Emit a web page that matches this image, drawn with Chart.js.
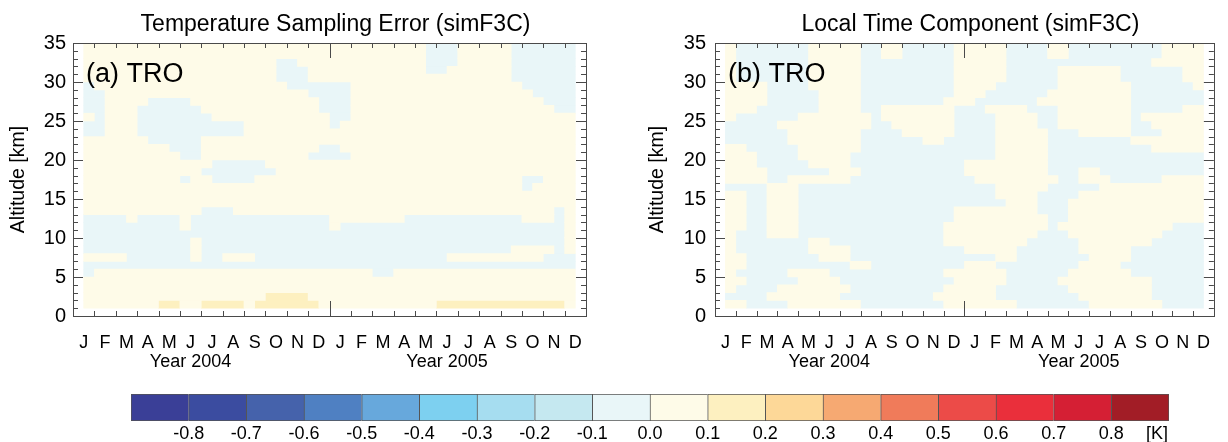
<!DOCTYPE html>
<html>
<head>
<meta charset="utf-8">
<script src="https://cdn.jsdelivr.net/npm/chart.js@4.4.1/dist/chart.umd.min.js"></script>
<style>
  body { margin: 0; background: #fff; }
  .wrap { position: relative; width: 1228px; height: 442px; overflow: hidden; }
  canvas { position: absolute; }
</style>
</head>
<body>
<div class="wrap">
  <canvas id="panelA" width="614" height="380" style="left:0;top:0"></canvas>
  <canvas id="panelB" width="614" height="380" style="left:614px;top:0"></canvas>
  <canvas id="colorBar" width="1228" height="62" style="left:0;top:380px"></canvas>
</div>
<script>
// axis labels
const monthLabels = ["J","F","M","A","M","J","J","A","S","O","N","D",
                     "J","F","M","A","M","J","J","A","S","O","N","D"];
const yearLabels = ["Year 2004", "Year 2005"];
const altitudeTicks = [0, 5, 10, 15, 20, 25, 30, 35];

// contour levels [K] and their colours
const levelEdges = [-0.9,-0.8,-0.7,-0.6,-0.5,-0.4,-0.3,-0.2,-0.1,0,0.1,0.2,0.3,0.4,0.5,0.6,0.7,0.8,0.9];
const levelColors = ["#3a3f97","#3b4ca0","#4562ab","#4f80c2","#67a8dc","#7dd0f0","#a6ddf0","#c5e8f0","#e9f6f8",
                     "#fefbe8","#fdf0c0","#fdd898","#f6a972","#f07b5a","#ec4b48","#ea2f3b","#d51f34","#a21d26"];
const colorbarTicks = [-0.8,-0.7,-0.6,-0.5,-0.4,-0.3,-0.2,-0.1,0.0,0.1,0.2,0.3,0.4,0.5,0.6,0.7,0.8];

// field values, one string per 1 km layer (35 km at top down to 1 km),
// run-length coded over half-month cells from mid Jan 2004 to mid Dec 2005
// "-" = -0.1..0 K, "." = 0..0.1 K, "o" = 0.1..0.2 K
const cellValues = { "-": -0.05, ".": 0.05, "o": 0.15 };
const samplingErrorRows = [
  "32. 3- 5. 6-", "32. 3- 5. 6-", "18. 2- 12. 3- 5. 6-", "18. 3- 11. 2- 6. 6-", "18. 3- 19. 6-",
  "1- 18. 6- 16. 5-", "2- 19. 4- 17. 4-", "2- 4. 4- 12. 3- 18. 3-", "2- 3. 6- 11. 3- 19. 2-",
  "1. 1- 3. 7- 11. 2- 21.", "2- 3. 10- 8. 1- 22.", "2- 3. 10- 31.", "6. 5- 35.", "8. 3- 11. 2- 22.",
  "9. 2- 10. 4- 21.", "12. 5- 29.", "11. 7- 28.", "9. 1- 2. 4- 25. 2- 3.", "41. 1- 4.", "46.", "46.",
  "11. 3- 30. 1- 1.", "4- 1. 4- 1. 13- 7. 11- 3. 1- 1.", "9- 1. 13- 1. 21- 1.", "45- 1.",
  "10- 1. 34- 1.", "10- 1. 29- 4. 1- 1.", "4. 6- 1. 2- 3. 18- 9. 3-", "46-", "1- 26. 2- 17.",
  "46.", "46.", "17. 4o 25.", "7. 2o 2. 4o 1. 6o 11. 12o 1."
];
const localTimeRows = [
  "1. 7- 5. 2- 2. 5- 5. 4- 2. 9- 4.", "1. 7- 5. 2- 2. 5- 5. 4- 2. 9- 4.", "1. 7- 5. 9- 5. 14- 5.",
  "1. 7- 5. 9- 5. 5- 6. 6- 2.", "1. 7- 5. 9- 5. 5- 6. 6- 2.", "4. 4- 5. 9- 4. 6- 7. 6- 1.",
  "4. 5- 4. 9- 3. 6- 8. 7-", "4. 5- 4. 8- 3. 6- 9. 7-", "3. 6- 4. 2- 7. 3- 4. 3- 7. 5- 2.",
  "1. 6- 7. 1- 7. 4- 4. 2- 7. 1- 6.", "5- 9. 2- 6. 4- 4. 2- 7. 2- 5.", "6- 7. 4- 5. 4- 5. 3- 5. 3- 4.",
  "6- 7. 6- 2. 5- 5. 8- 7.", "2. 5- 6. 13- 5. 10- 5.", "3. 4- 5. 14- 5. 15-", "3. 5- 4. 11- 8. 15-",
  "4. 6- 3. 10- 8. 3- 2. 10-", "4. 2- 6. 12- 8. 2- 3. 5- 4.", "4- 3. 19- 5. 5- 10.",
  "2. 2- 3. 19- 4. 4- 12.", "2. 2- 3. 20- 3. 3- 13.", "2. 2- 3. 15- 8. 3- 13.", "2. 2- 3. 15- 9. 2- 13.",
  "2. 2- 3. 14- 10. 1- 11. 3-", "1. 3- 3. 14- 9. 3- 9. 4-", "1. 7- 2. 11- 8. 5- 7. 5-",
  "1. 7- 4. 11- 5. 6- 5. 7-", "2. 7- 3. 14- 2. 7- 4. 7-", "2. 10- 2. 9- 3. 8- 4. 8-",
  "1. 5- 4. 11- 6. 6- 6. 7-", "2. 5- 4. 11- 5. 5- 9. 5-", "1. 4- 7. 9- 5. 7- 8. 5-",
  "4- 7. 9- 6. 8- 7. 5-", "2. 4- 7. 8- 7. 7- 7. 4-"
];

// grid of the field
const firstMonth = 0.5, monthStep = 0.5;
const topAltitude = 35, layerDepth = 1;

Chart.defaults.font.family = '"Liberation Sans", Arial, Helvetica, sans-serif';
Chart.defaults.color = "#000";

function levelColor(v) {
  for (let i = 0; i < levelColors.length; i++) {
    if (v < levelEdges[i + 1]) return levelColors[i];
  }
  return levelColors[levelColors.length - 1];
}

// every run of equal cells becomes one floating bar
function fieldDatasets(rows) {
  const groups = {};
  rows.forEach((row, r) => {
    const alt = topAltitude - layerDepth * (r + 0.5);
    let pos = 0;
    row.trim().split(/\s+/).forEach(tok => {
      const n = parseInt(tok, 10);
      const v = cellValues[tok.slice(-1)];
      if (!groups[v]) groups[v] = [];
      groups[v].push({ y: alt, x: [firstMonth + pos * monthStep, firstMonth + (pos + n) * monthStep] });
      pos += n;
    });
  });
  return Object.keys(groups).map(v => ({
    data: groups[v],
    backgroundColor: levelColor(+v),
    borderWidth: 0,
    barPercentage: 1,
    categoryPercentage: 1,
    grouped: false
  }));
}

// box and inward tick marks like the original plot
const frameTicks = {
  id: "frameTicks",
  afterDatasetsDraw(chart) {
    const { ctx, chartArea: a, scales } = chart;
    const x = scales.x, y = scales.y;
    ctx.save();
    ctx.strokeStyle = "#4a4a4a";
    ctx.lineWidth = 1;
    ctx.strokeRect(Math.round(a.left) + 0.5, Math.round(a.top) + 0.5, Math.round(a.width), Math.round(a.height));
    ctx.beginPath();
    for (let m = 1; m < monthLabels.length; m++) {
      const px = Math.round(x.getPixelForValue(m)) + 0.5;
      const len = m % 12 === 0 ? 15 : 5;
      ctx.moveTo(px, a.bottom); ctx.lineTo(px, a.bottom - len);
      ctx.moveTo(px, a.top); ctx.lineTo(px, a.top + len);
    }
    for (let k = 1; k < topAltitude; k++) {
      const py = Math.round(y.getPixelForValue(k)) + 0.5;
      const len = k % 5 === 0 ? 10 : 5;
      ctx.moveTo(a.left, py); ctx.lineTo(a.left + len, py);
      ctx.moveTo(a.right, py); ctx.lineTo(a.right - len, py);
    }
    ctx.stroke();
    ctx.restore();
  }
};

const panelText = {
  id: "panelText",
  afterDraw(chart, args, opts) {
    const { ctx, chartArea: a } = chart;
    ctx.save();
    ctx.fillStyle = "#000";
    ctx.textBaseline = "middle";
    ctx.textAlign = "center";
    ctx.font = '23px "Liberation Sans", Arial, sans-serif';
    ctx.fillText(opts.title, (a.left + a.right) / 2 + 6, a.top - 18);
    ctx.textAlign = "left";
    ctx.font = '27px "Liberation Sans", Arial, sans-serif';
    ctx.fillText(opts.label, a.left + 13, a.top + 31.5);
    ctx.restore();
  }
};

function makePanel(id, rows, title, label, axisWidth, rightPad, tickPad, titlePad) {
  return new Chart(document.getElementById(id), {
    type: "bar",
    data: { datasets: fieldDatasets(rows) },
    plugins: [frameTicks, panelText],
    options: {
      indexAxis: "y",
      responsive: false,
      animation: false,
      events: [],
      layout: { padding: { left: 0, right: rightPad, top: 43, bottom: 0 } },
      plugins: {
        legend: { display: false },
        tooltip: { enabled: false },
        panelText: { title: title, label: label }
      },
      scales: {
        x: {
          type: "linear", position: "bottom", min: 0, max: 24, offset: false,
          grid: { display: false, drawTicks: false },
          border: { display: false },
          afterBuildTicks: s => { s.ticks = monthLabels.map((_, i) => ({ value: i + 0.5 })); },
          ticks: { autoSkip: false, maxRotation: 0, padding: 18, font: { size: 18, lineHeight: 1 },
                   callback: (v, i) => monthLabels[i] },
          afterFit: s => { s.height = 37; }
        },
        x2: {
          type: "linear", position: "bottom", min: 0, max: 24, weight: 1,
          grid: { display: false, drawTicks: false },
          border: { display: false },
          afterBuildTicks: s => { s.ticks = yearLabels.map((_, i) => ({ value: 5.5 + 12 * i })); },
          ticks: { autoSkip: false, maxRotation: 0, padding: 0, font: { size: 18, lineHeight: 1 },
                   callback: (v, i) => yearLabels[i] },
          afterFit: s => { s.height = 27; }
        },
        y: {
          type: "linear", min: 0, max: topAltitude, offset: false,
          grid: { display: false, drawTicks: false, offset: false },
          border: { display: false },
          afterBuildTicks: s => { s.ticks = altitudeTicks.map(v => ({ value: v })); },
          ticks: { autoSkip: false, padding: tickPad, font: { size: 20 }, callback: v => v },
          title: { display: true, text: "Altitude [km]", font: { size: 19.5 }, padding: { top: titlePad, bottom: 0 } },
          afterFit: s => { s.width = axisWidth; }
        }
      }
    }
  });
}

makePanel("panelA", samplingErrorRows, "Temperature Sampling Error (simF3C)", "(a) TRO", 73, 28, 7, 7);
makePanel("panelB", localTimeRows, "Local Time Component (simF3C)", "(b) TRO", 101, 1, 9, 32);

// colour bar
const unitLabel = {
  id: "unitLabel",
  afterDraw(chart) {
    const { ctx, chartArea: a } = chart;
    ctx.save();
    ctx.fillStyle = "#000";
    ctx.font = '18px "Liberation Sans", Arial, sans-serif';
    ctx.textAlign = "right";
    ctx.textBaseline = "middle";
    ctx.fillText("[K]", a.right - 1, a.bottom + 13);
    ctx.restore();
  }
};

new Chart(document.getElementById("colorBar"), {
  type: "bar",
  data: {
    labels: ["K"],
    datasets: [{
      data: levelColors.map((c, i) => ({ y: "K", x: [levelEdges[i], levelEdges[i + 1]] })),
      backgroundColor: levelColors,
      borderColor: "#555",
      borderWidth: ctx => ({ top: 1, bottom: 1, left: 1, right: ctx.dataIndex === levelColors.length - 1 ? 1 : 0 }),
      borderSkipped: false,
      barPercentage: 1,
      categoryPercentage: 1
    }]
  },
  plugins: [unitLabel],
  options: {
    indexAxis: "y",
    responsive: false,
    animation: false,
    events: [],
    layout: { padding: { left: 131, right: 59, top: 14, bottom: 0 } },
    plugins: { legend: { display: false }, tooltip: { enabled: false } },
    scales: {
      x: {
        type: "linear", min: -0.9, max: 0.9,
        grid: { display: false, drawTicks: false },
        border: { display: false },
        afterBuildTicks: s => { s.ticks = colorbarTicks.map(v => ({ value: v })); },
        ticks: { autoSkip: false, maxRotation: 0, padding: 4, font: { size: 18, lineHeight: 1 }, callback: v => v.toFixed(1) },
        afterFit: s => { s.height = 21; }
      },
      y: { display: false }
    }
  }
});
</script>
</body>
</html>
